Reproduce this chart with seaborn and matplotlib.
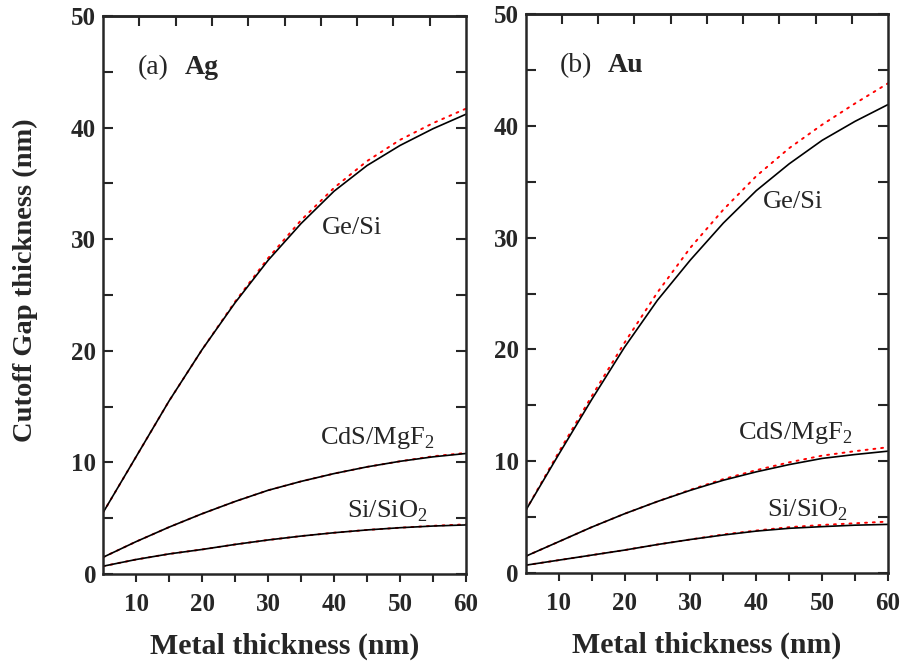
import numpy as np
import pandas as pd
import matplotlib
matplotlib.use("Agg")
import matplotlib.pyplot as plt
import seaborn as sns

# Metal thickness (nm)
thickness = [5, 10, 15, 20, 25, 30, 35, 40, 45, 50, 55, 60]

# (a) Ag: exact (solid) and approximate (dotted) cutoff gap thickness (nm)
ag_gesi = [5.5, 10.5, 15.5, 20.1, 24.3, 28.1, 31.4, 34.3, 36.6, 38.4, 39.9, 41.2]
ag_gesi_approx = [5.5, 10.5, 15.5, 20.1, 24.4, 28.3, 31.7, 34.6, 37.0, 38.9, 40.4, 41.7]
ag_cds = [1.5, 2.9, 4.2, 5.4, 6.5, 7.5, 8.3, 9.0, 9.6, 10.1, 10.5, 10.8]
ag_cds_approx = [1.5, 2.9, 4.2, 5.4, 6.5, 7.5, 8.3, 9.0, 9.6, 10.1, 10.55, 10.85]
ag_si = [0.7, 1.3, 1.8, 2.2, 2.65, 3.05, 3.4, 3.7, 3.95, 4.15, 4.3, 4.4]
ag_si_approx = [0.7, 1.3, 1.8, 2.2, 2.65, 3.05, 3.4, 3.7, 3.95, 4.15, 4.32, 4.45]

# (b) Au
au_gesi = [5.6, 10.6, 15.5, 20.2, 24.4, 28.0, 31.3, 34.2, 36.6, 38.7, 40.4, 41.9]
au_gesi_approx = [5.6, 10.8, 15.8, 20.6, 25.1, 29.1, 32.5, 35.5, 38.0, 40.1, 42.0, 43.8]
au_cds = [1.5, 2.8, 4.1, 5.3, 6.4, 7.4, 8.3, 9.05, 9.7, 10.25, 10.6, 10.9]
au_cds_approx = [1.5, 2.8, 4.1, 5.3, 6.4, 7.45, 8.4, 9.2, 9.9, 10.5, 10.9, 11.25]
au_si = [0.7, 1.15, 1.6, 2.05, 2.55, 3.0, 3.4, 3.75, 4.0, 4.15, 4.28, 4.35]
au_si_approx = [0.7, 1.15, 1.6, 2.05, 2.55, 3.0, 3.45, 3.8, 4.1, 4.3, 4.45, 4.6]

sns.set_style("ticks")
plt.rcParams["font.family"] = ["Liberation Serif", "DejaVu Serif"]
plt.rcParams["mathtext.fontset"] = "custom"
plt.rcParams["mathtext.rm"] = "Liberation Serif"
plt.rcParams["axes.linewidth"] = 1.8

fig = plt.figure(figsize=(9.03, 6.66), dpi=100)
ax_ag = fig.add_axes([0.1141, 0.1381, 0.4020, 0.8379])
ax_au = fig.add_axes([0.5822, 0.1396, 0.4012, 0.8394])

panels = [
    (ax_ag, "(a)", "Ag",
     [(ag_gesi, ag_gesi_approx), (ag_cds, ag_cds_approx), (ag_si, ag_si_approx)],
     [(38.1, 31.0), (37.9, 12.2), (42.0, 5.6)]),
    (ax_au, "(b)", "Au",
     [(au_gesi, au_gesi_approx), (au_cds, au_cds_approx), (au_si, au_si_approx)],
     [(41.0, 33.2), (37.2, 12.5), (41.6, 5.6)]),
]
names = ["Ge/Si", "CdS/MgF$_{2}$", "Si/SiO$_{2}$"]

for ax, tag, metal, series, label_pos in panels:
    for exact, approx in series:
        df = pd.DataFrame({"t": thickness, "exact": exact, "approx": approx})
        sns.lineplot(data=df, x="t", y="approx", ax=ax, color="red",
                     linewidth=1.4, linestyle=(0, (1, 3)),
                     dash_capstyle="round", estimator=None)
        sns.lineplot(data=df, x="t", y="exact", ax=ax, color="black",
                     linewidth=1.2, estimator=None)
    for name, (lx, ly) in zip(names, label_pos):
        ax.text(lx, ly, name, fontsize=19, va="center", ha="left")
    ax.text(10.2, 45.4, tag, fontsize=20, va="center", ha="left")
    ax.text(17.4, 45.4, metal, fontsize=20, fontweight="bold",
            va="center", ha="left")

    ax.set_xlim(5, 60)
    ax.set_ylim(0, 50)
    ax.set_xticks([10, 20, 30, 40, 50, 60])
    ax.set_xticks([15, 25, 35, 45, 55], minor=True)
    ax.set_yticks([0, 10, 20, 30, 40, 50])
    ax.set_yticks([5, 15, 25, 35, 45], minor=True)
    ax.tick_params(axis="x", which="both", direction="out", length=6,
                   width=1.5, top=False, labelsize=18, pad=8)
    ax.tick_params(axis="y", which="both", direction="in", length=7,
                   width=1.5, left=True, right=True, labelsize=18, pad=5)
    for lbl in ax.get_xticklabels() + ax.get_yticklabels():
        lbl.set_fontweight("bold")
    ax.set_xlabel("Metal thickness (nm)", fontsize=21.5, fontweight="bold",
                  labelpad=12)
    ax.set_ylabel("")

    top = ax.secondary_xaxis("top")
    top.set_xticks(np.linspace(5, 60, 11)[1:-1])
    top.tick_params(direction="in", length=7, width=1.5, labeltop=False)
    top.spines["top"].set_linewidth(1.8)

fig.text(25 / 903, 1 - 280 / 666, "Cutoff Gap thickness (nm)", fontsize=20.5,
         fontweight="bold", rotation=90, va="center", ha="center")

fig.savefig("out.png", dpi=100)
